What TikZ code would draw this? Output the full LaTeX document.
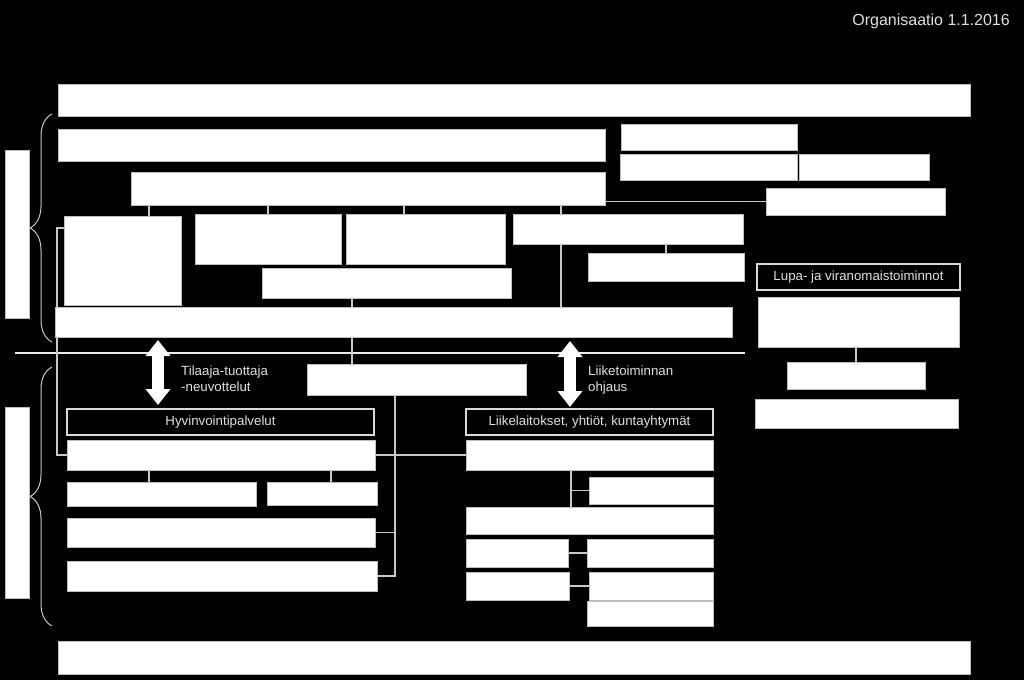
\documentclass[tikz,border=0pt]{standalone}
\usepackage{fontspec}
\setmainfont{Liberation Sans}
\usetikzlibrary{arrows.meta,decorations.pathreplacing,backgrounds}

\begin{document}
\begin{tikzpicture}[x=1pt,y=-1pt,
  box/.style={draw=black!25,fill=white,line width=0.8pt,anchor=north west,inner sep=0pt,outer sep=0pt},
  hdr/.style={draw=black!15,fill=black,line width=1.2pt,text=black!12,anchor=north west,inner sep=0pt,outer sep=0pt,font=\fontsize{13.3}{16}\selectfont},
  lbl/.style={text=black!12,inner sep=0pt,align=left,font=\fontsize{13.3}{16}\selectfont},
  conn/.style={draw=black!22,line width=1.2pt},
  brc/.style={draw=black!22,line width=1pt,decorate,decoration={brace,amplitude=22pt}},
  dbl/.style={draw=white,line width=12pt,{Triangle[width=24pt,length=16pt]}-{Triangle[width=24pt,length=16pt]}}]
\useasboundingbox (0,0) rectangle (1024,680);

% top and bottom bars, side boxes
\node[box,minimum width=912pt,minimum height=32pt] (top) at (58,84) {};
\node[box,minimum width=912pt,minimum height=33pt] (bot) at (58,641) {};
\node[box,minimum width=24pt,minimum height=168pt] (sideup) at (5,150) {};
\node[box,minimum width=24pt,minimum height=191pt] (sidelow) at (5,407) {};

% upper part
\node[box,minimum width=547pt,minimum height=32pt] (row2) at (58,129) {};
\node[box,minimum width=176pt,minimum height=26pt] (ra) at (621,124) {};
\node[box,minimum width=177pt,minimum height=26pt] (rb) at (620,154) {};
\node[box,minimum width=130pt,minimum height=26pt] (rc) at (799,154) {};
\node[box,minimum width=474pt,minimum height=33pt] (ctr) at (131,172) {};
\node[box,minimum width=179pt,minimum height=27pt] (rd) at (766,188) {};
\node[box,minimum width=117pt,minimum height=89pt] (bA) at (64,216) {};
\node[box,minimum width=146pt,minimum height=50pt] (bB) at (195,214) {};
\node[box,minimum width=159pt,minimum height=50pt] (bC) at (346,214) {};
\node[box,minimum width=230pt,minimum height=30pt] (bD) at (513,214) {};
\node[box,minimum width=156pt,minimum height=28pt] (bE) at (588,253) {};
\node[box,minimum width=249pt,minimum height=30pt] (bF) at (262,268) {};
\node[box,minimum width=677pt,minimum height=30pt] (row5) at (55,307) {};

% lower part
\node[box,minimum width=219pt,minimum height=31pt] (mid) at (307,364) {};
\node[hdr,minimum width=307pt,minimum height=26pt] (hv) at (67,409) {Hyvinvointipalvelut};
\node[box,minimum width=308pt,minimum height=30pt] (h1) at (67,440) {};
\node[box,minimum width=189pt,minimum height=24pt] (h2a) at (67,482) {};
\node[box,minimum width=110pt,minimum height=23pt] (h2b) at (267,482) {};
\node[box,minimum width=308pt,minimum height=29pt] (h3) at (67,518) {};
\node[box,minimum width=310pt,minimum height=30pt] (h4) at (67,561) {};
\node[hdr,minimum width=247pt,minimum height=26pt] (lk) at (466,409) {Liikelaitokset, yhtiöt, kuntayhtymät};
\node[box,minimum width=247pt,minimum height=30pt] (l1) at (466,440) {};
\node[box,minimum width=124pt,minimum height=27pt] (l2) at (589,477) {};
\node[box,minimum width=247pt,minimum height=27pt] (l3) at (466,507) {};
\node[box,minimum width=102pt,minimum height=28pt] (l4a) at (466,539) {};
\node[box,minimum width=126pt,minimum height=28pt] (l4b) at (587,539) {};
\node[box,minimum width=103pt,minimum height=28pt] (l5a) at (466,572) {};
\node[box,minimum width=124pt,minimum height=28pt] (l5b) at (589,572) {};
\node[box,minimum width=126pt,minimum height=25pt] (l6) at (587,601) {};

% right column
\node[hdr,minimum width=203pt,minimum height=26pt] (lp) at (757,264) {Lupa- ja viranomaistoiminnot};
\node[box,minimum width=201pt,minimum height=50pt] (r1) at (758,297) {};
\node[box,minimum width=138pt,minimum height=27pt] (r2) at (787,362) {};
\node[box,minimum width=203pt,minimum height=29pt] (r3) at (755,399) {};

% texts
\node[lbl,anchor=base east,font=\fontsize{16}{19}\selectfont] (title) at (1010,25) {Organisaatio 1.1.2016};
\node[lbl,anchor=north west] (tt) at (181,366) {Tilaaja-tuottaja\\-neuvottelut};
\node[lbl,anchor=north west] (lo) at (588,366) {Liiketoiminnan\\ohjaus};

\begin{scope}[on background layer]
\fill[black] (0,0) rectangle (1024,680);
% separator
\coordinate (sepl) at (15,353);
\coordinate (sepr) at (745,353);
\draw[draw=black!8,line width=2.5pt] (sepl) -- (sepr);
% connectors
\foreach \xx/\nn in {149/bA,268/bB,404/bC,561/bD}
  \draw[conn] (ctr.south -| \xx,0) -- (\nn.north -| \xx,0);
\draw[conn] (ctr.east |- rd.west) -- (rd.west);
\draw[conn] (bD.south -| 561,0) -- (row5.north -| 561,0);
\draw[conn] (bD.south -| 666,0) -- (bE.north -| 666,0);
\draw[conn] (bF.south -| 352,0) -- (mid.north -| 352,0);
\draw[conn] (bA.west |- 0,228) -- (57,228) |- (h1.west);
\draw[conn] (mid.south -| 395,0) |- (h4.east);
\draw[conn] (h3.east) -- (h3.east -| 395,0);
\draw[conn] (h1.east) -- (l1.west);
\draw[conn] (h1.south -| 149,0) -- (h2a.north -| 149,0);
\draw[conn] (h1.south -| 331,0) -- (h2b.north -| 331,0);
\draw[conn] (l1.south -| 571,0) -- (l3.north -| 571,0);
\draw[conn] (l2.west) -- (l2.west -| 571,0);
\draw[conn] (l4a) -- (l4b);
\draw[conn] (l5a) -- (l5b);
\draw[conn] (r1.south -| r2.north) -- (r2.north);
\end{scope}

% braces
\draw[brc] (52,342) -- (52,114);
\draw[brc] (52,626) -- (52,367);

% arrows
\draw[dbl,shorten <=3pt,shorten >=4pt] (row5.south -| 158,0) -- (hv.north -| 158,0);
\draw[dbl,shorten <=4pt,shorten >=2pt] (row5.south -| 570,0) -- (lk.north -| 570,0);
\end{tikzpicture}
\end{document}
